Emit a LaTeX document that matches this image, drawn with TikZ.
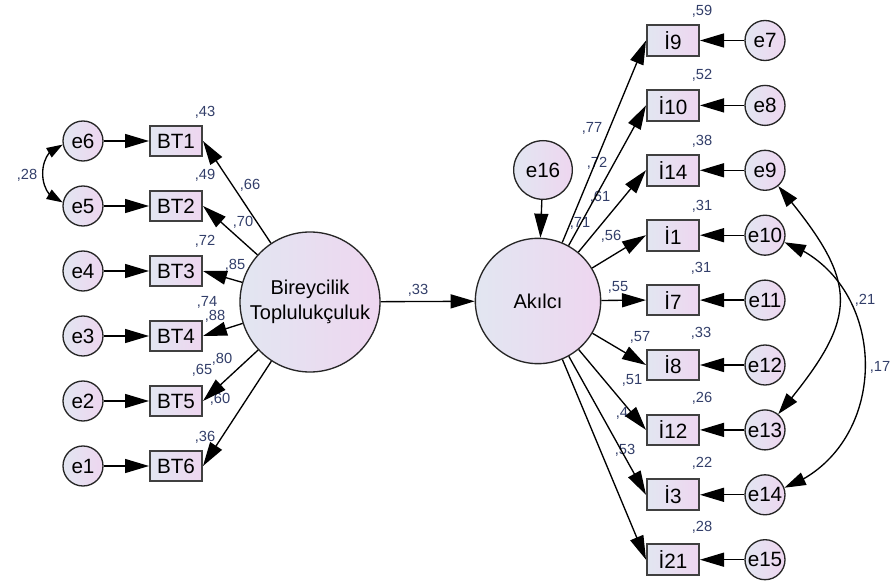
\documentclass[tikz,border=0pt]{standalone}
\usepackage{fontspec}
\setmainfont{Liberation Sans}
\usetikzlibrary{arrows.meta}
\usetikzlibrary{bending}
\definecolor{lavA}{RGB}{226,230,241}
\definecolor{lavB}{RGB}{238,214,240}
\definecolor{coefc}{RGB}{50,62,105}

\begin{document}
\begin{tikzpicture}[x=0.75pt, y=0.75pt]

      \tikzset{err/.style = {shape=circle,draw=black!85,line width=1pt,left color=lavA,right color=lavB,minimum size=30pt,inner sep=0pt,font=\fontsize{15.5}{18}\selectfont}}
      \tikzset{lat/.style = {err,minimum size=105pt,align=center,font=\fontsize{15}{19}\selectfont}}
      \tikzset{obs/.style = {shape=rectangle,draw=black!75,line width=1.5pt,left color=lavA,right color=lavB,minimum width=39pt,minimum height=23pt,inner sep=0pt,font=\fontsize{15.5}{18}\selectfont}}
      \tikzset{edge/.style = {-{Triangle[length=18pt,width=10.5pt]},line width=1pt}}
      \tikzset{cov/.style = {{Triangle[length=16pt,width=10pt]}-{Triangle[length=16pt,width=10pt]},line width=1pt}}
      \tikzset{coef/.style = {text=coefc,font=\fontsize{11}{13}\selectfont,inner sep=0pt}}
      \useasboundingbox (0,0) rectangle (893,583);
      % latent variables
      \node[lat] (bir) at (310,281) {Bireycilik\\Toplulukçuluk};
      \node[lat,minimum size=94pt] (ak) at (538,282) {Akılcı};
      \node[err,minimum size=44pt] (e16) at (543,413) {e16};
      % left indicators
      \node[obs] (bt1) at (176,442) {BT1};
      \node[obs] (bt2) at (176,377) {BT2};
      \node[obs] (bt3) at (176,312) {BT3};
      \node[obs] (bt4) at (176,247) {BT4};
      \node[obs] (bt5) at (176,182) {BT5};
      \node[obs] (bt6) at (176,117) {BT6};
      \node[err] (e6) at (83,442) {e6};
      \node[err] (e5) at (83,377) {e5};
      \node[err] (e4) at (83,312) {e4};
      \node[err] (e3) at (83,247) {e3};
      \node[err] (e2) at (83,182) {e2};
      \node[err] (e1) at (83,117) {e1};
      % right indicators
      \node[obs] (i9)  at (673,542.5) {İ9};
      \node[obs] (i10) at (673,477.6) {İ10};
      \node[obs] (i14) at (673,412.7) {İ14};
      \node[obs] (i1)  at (673,347.8) {İ1};
      \node[obs] (i7)  at (673,282.9) {İ7};
      \node[obs] (i8)  at (673,218)   {İ8};
      \node[obs] (i12) at (673,153.1) {İ12};
      \node[obs] (i3)  at (673,88.2)  {İ3};
      \node[obs] (i21) at (673,23.3)  {İ21};
      \node[err] (e7)  at (765,542.5) {e7};
      \node[err] (e8)  at (765,477.6) {e8};
      \node[err] (e9)  at (765,412.7) {e9};
      \node[err] (e10) at (765,347.8) {e10};
      \node[err] (e11) at (765,282.9) {e11};
      \node[err] (e12) at (765,218)   {e12};
      \node[err] (e13) at (765,153.1) {e13};
      \node[err] (e14) at (765,88.2)  {e14};
      \node[err] (e15) at (765,23.3)  {e15};
      % estimates
      \node[coef] (r43) at (205,471) {,43};
      \node[coef] (r49) at (205,408) {,49};
      \node[coef] (r72) at (205,342) {,72};
      \node[coef] (r74) at (207,281) {,74};
      \node[coef] (r65) at (202,213) {,65};
      \node[coef] (r36) at (205,146) {,36};
      \node[coef] (l66) at (250,398) {,66};
      \node[coef] (l70) at (243,361) {,70};
      \node[coef] (l85) at (235,318) {,85};
      \node[coef] (l88) at (215,267) {,88};
      \node[coef] (l80) at (222,224) {,80};
      \node[coef] (l60) at (220,184) {,60};
      \node[coef] (c28) at (27,408) {,28};
      \node[coef] (p33) at (418,293) {,33};
      \node[coef] (r59) at (702,572) {,59};
      \node[coef] (r52) at (702,508) {,52};
      \node[coef] (r38) at (702,442) {,38};
      \node[coef] (r31a) at (702,377) {,31};
      \node[coef] (r31b) at (701,315) {,31};
      \node[coef] (r33) at (701,250) {,33};
      \node[coef] (r26) at (702,185) {,26};
      \node[coef] (r22) at (702,120) {,22};
      \node[coef] (r28) at (702,56) {,28};
      \node[coef] (l77) at (592,455) {,77};
      \node[coef] (l72) at (597,420) {,72};
      \node[coef] (l61) at (600,386) {,61};
      \node[coef] (l71) at (580,360) {,71};
      \node[coef] (l56) at (611,347) {,56};
      \node[coef] (l55) at (618,296) {,55};
      \node[coef] (l57) at (640,246) {,57};
      \node[coef] (l51) at (632,203) {,51};
      \node[coef] (l4) at (622,170) {,4};
      \node[coef] (l53) at (625,133) {,53};
      \node[coef] (c21) at (865,283) {,21};
      \node[coef] (c17) at (880,216) {,17};
      %edges
      \draw[edge] (bir) -- (ak);
      \draw[edge] (e16) -- (ak);
      \draw[edge] (bir) -- (bt1.east);
      \draw[edge] (bir) -- (bt2.east);
      \draw[edge] (bir) -- (bt3.east);
      \draw[edge] (bir) -- (bt4.east);
      \draw[edge] (bir) -- (bt5.east);
      \draw[edge] (bir) -- (bt6.east);
      \draw[edge] (e6) -- (bt1);
      \draw[edge] (e5) -- (bt2);
      \draw[edge] (e4) -- (bt3);
      \draw[edge] (e3) -- (bt4);
      \draw[edge] (e2) -- (bt5);
      \draw[edge] (e1) -- (bt6);
      \draw[edge] (ak) -- (i9.west);
      \draw[edge] (ak) -- (i10.west);
      \draw[edge] (ak) -- (i14.west);
      \draw[edge] (ak) -- (i1.west);
      \draw[edge] (ak) -- (i7.west);
      \draw[edge] (ak) -- (i8.west);
      \draw[edge] (ak) -- (i12.west);
      \draw[edge] (ak) -- (i3.west);
      \draw[edge] (ak) -- (i21.west);
      \draw[edge] (e7) -- (i9);
      \draw[edge] (e8) -- (i10);
      \draw[edge] (e9) -- (i14);
      \draw[edge] (e10) -- (i1);
      \draw[edge] (e11) -- (i7);
      \draw[edge] (e12) -- (i8);
      \draw[edge] (e13) -- (i12);
      \draw[edge] (e14) -- (i3);
      \draw[edge] (e15) -- (i21);
      \draw[cov,{Triangle[length=12pt,width=8pt]}-{Triangle[length=12pt,width=8pt]}] (e6) to[bend right=80, looseness=1.2] (e5);
      \draw[cov] (e9) to[bend left=40, looseness=1.45] (e13);
      \draw[cov] (e10) to[bend left=70, looseness=1.2] (e14);

\end{tikzpicture}
\end{document}
